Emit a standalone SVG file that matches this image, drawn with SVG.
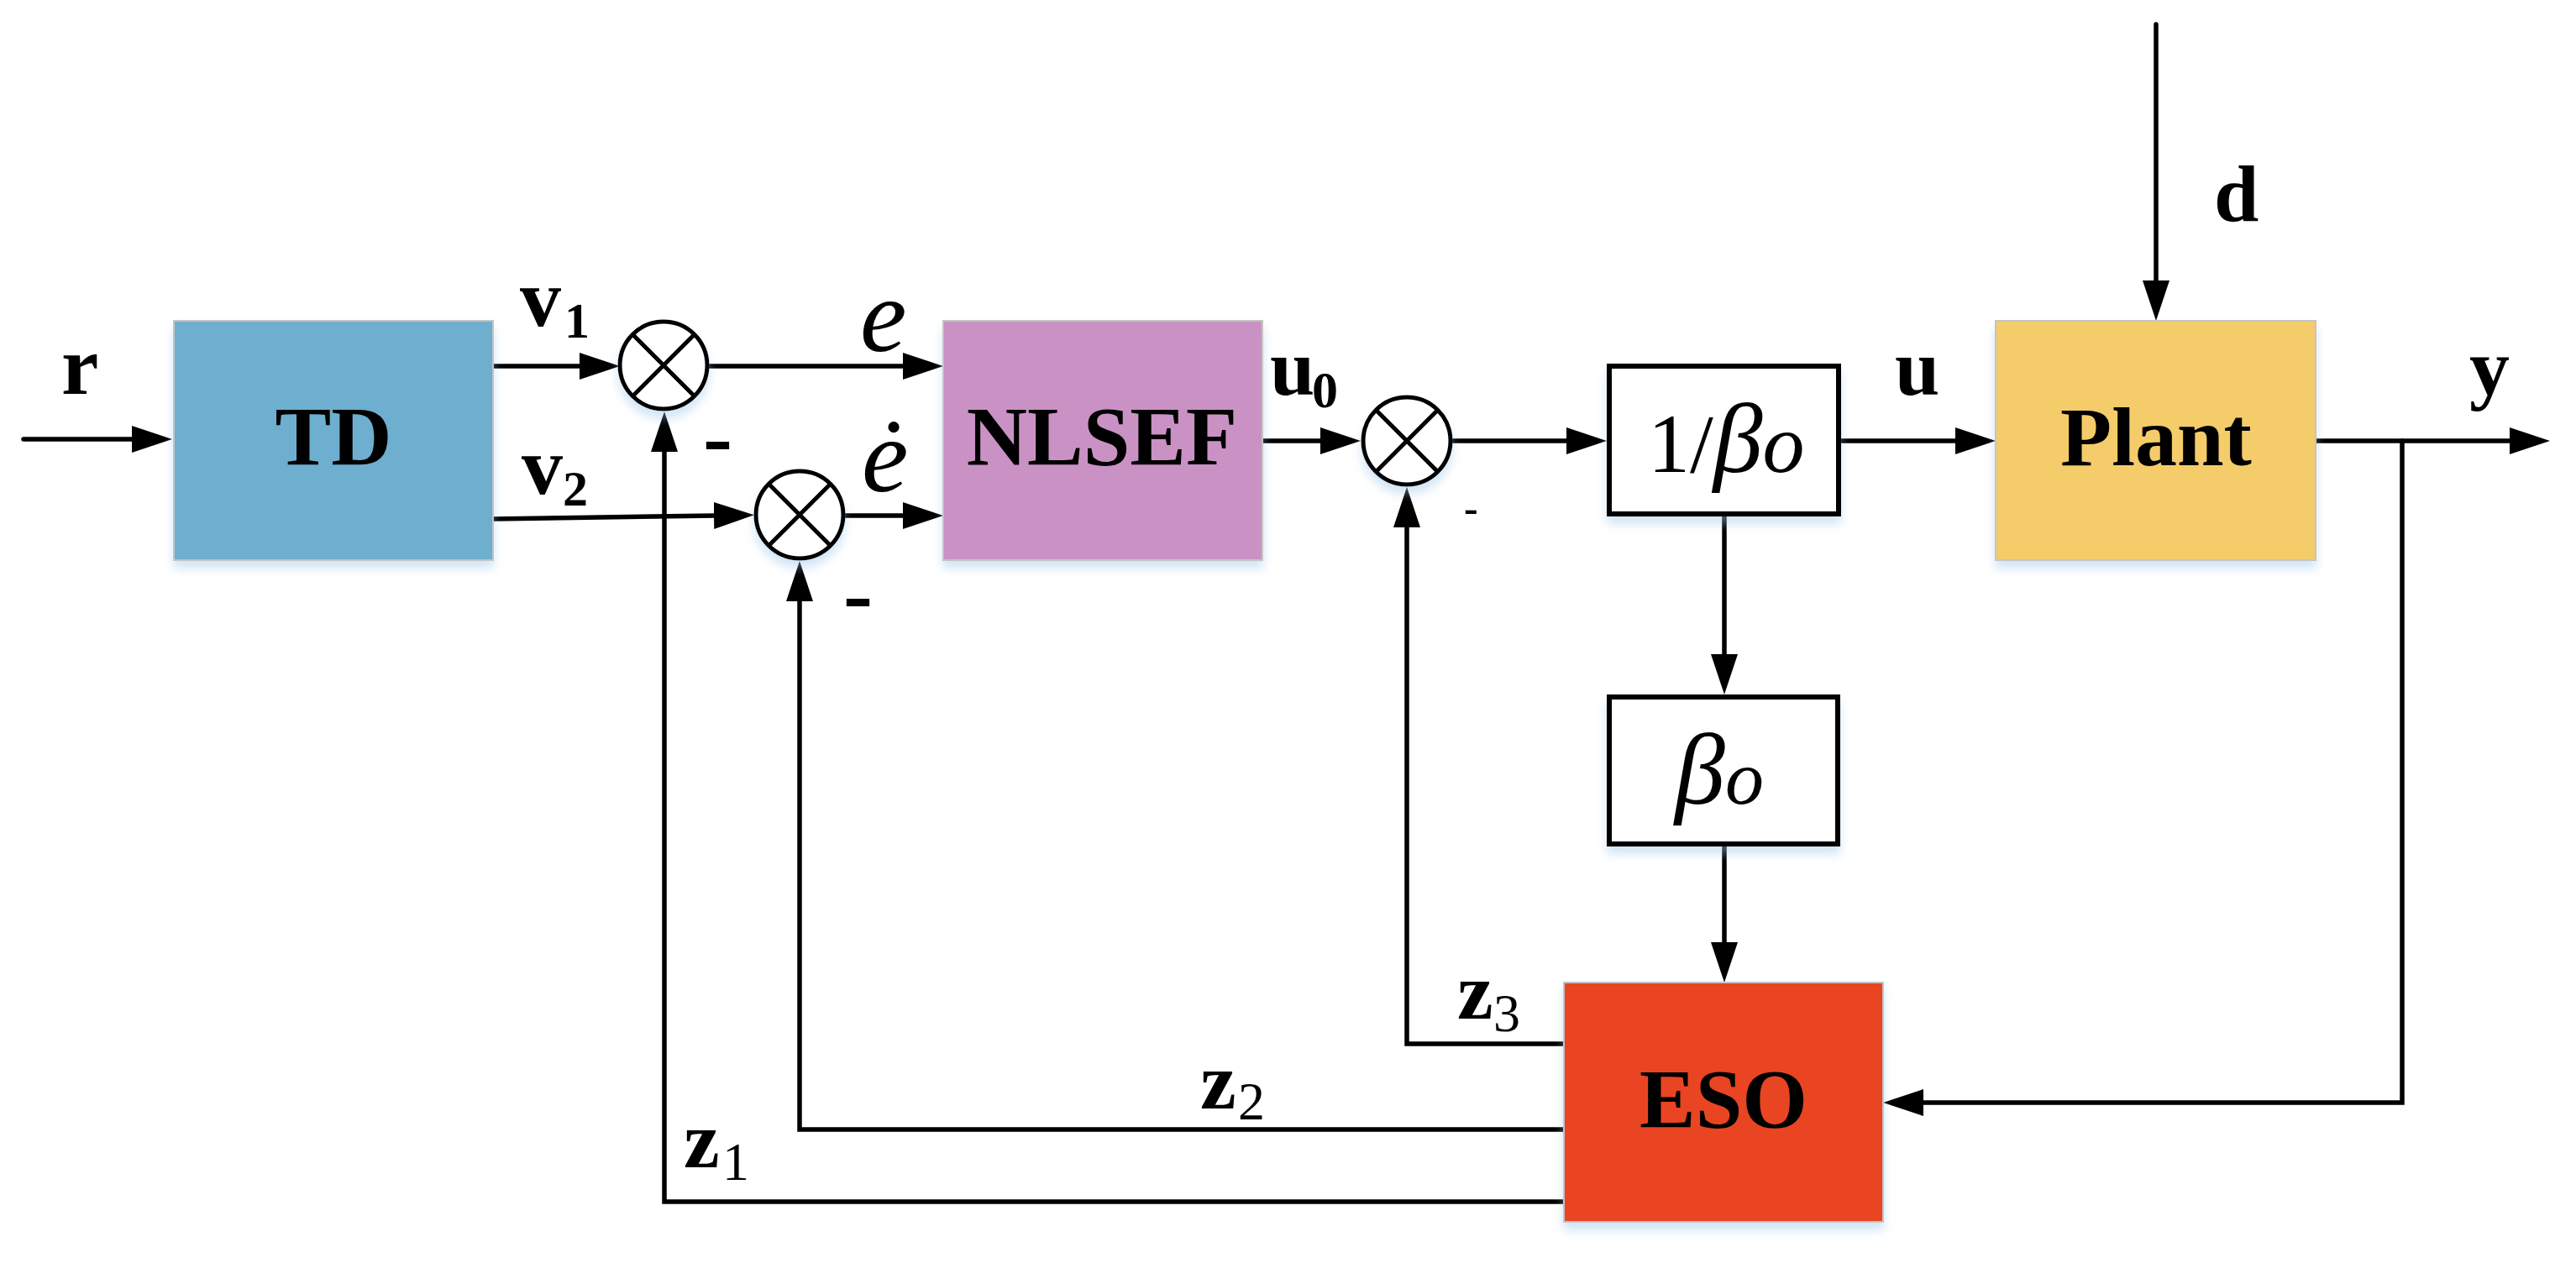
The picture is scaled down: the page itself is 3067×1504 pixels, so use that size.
<svg xmlns="http://www.w3.org/2000/svg" width="3067" height="1504" viewBox="0 0 3067 1504">
<defs>
<marker id="arr" markerUnits="userSpaceOnUse" markerWidth="48" markerHeight="32" viewBox="0 0 48 32" refX="1" refY="16" orient="auto"><path d="M0,0 L48,16 L0,32 Z" fill="#000"/></marker>
<filter id="sh" x="-20%" y="-20%" width="140%" height="150%"><feDropShadow dx="0" dy="9" stdDeviation="6" flood-color="#9cc4ea" flood-opacity="0.45"/></filter>
<style>
.lbl{font-family:"Liberation Serif","Times New Roman",serif;font-weight:bold;fill:#000}
.sub{font-family:"Liberation Serif","Times New Roman",serif;fill:#000}
.math{font-family:"Liberation Serif","Times New Roman",serif;font-style:italic;fill:#000}
.blk{stroke:#c4c4c4;stroke-width:2;filter:url(#sh)}
.wbox{fill:#fff;stroke:#000;stroke-width:6;filter:url(#sh)}
.sum{fill:#fff;stroke:#000;stroke-width:5;filter:url(#sh)}
.x{stroke:#000;stroke-width:5}
.c{fill:none;stroke:#000;stroke-width:5.5;stroke-linecap:round;stroke-linejoin:miter;marker-end:url(#arr)}
</style>
</defs>
<rect width="3067" height="1504" fill="#fff"/>

<g id="connectors">
<path class="c" d="M28,523 H158"/>
<path class="c" d="M587,436 H691"/>
<path class="c" d="M587,618 L851,614"/>
<path class="c" d="M843,436 H1076"/>
<path class="c" d="M1004,614 H1076"/>
<path class="c" d="M1503,525 H1573"/>
<path class="c" d="M1730,525 H1866"/>
<path class="c" d="M2192,525 H2329"/>
<path class="c" d="M2757,525 H2989"/>
<path class="c" d="M2567,29 V335"/>
<path class="c" d="M2053,615 V780"/>
<path class="c" d="M2053,1008 V1123"/>
<path class="c" d="M2860,525 V1313 H2289"/>
<path class="c" d="M1862,1243 H1675 V627"/>
<path class="c" d="M1862,1345 H952 V715"/>
<path class="c" d="M1862,1431 H791 V537"/>
</g>

<g id="TD">
<rect class="blk" x="207" y="382" width="380" height="285" fill="#6eaece"/>
<text class="lbl" x="397" y="553" font-size="100" text-anchor="middle">TD</text>
</g>

<g id="sum1">
<circle class="sum" cx="790" cy="435" r="52"/>
<path class="x" d="M753,398 L827,472 M827,398 L753,472"/>
</g>

<g id="sum2">
<circle class="sum" cx="952" cy="613" r="52"/>
<path class="x" d="M915,576 L989,650 M989,576 L915,650"/>
</g>

<g id="NLSEF">
<rect class="blk" x="1123" y="382" width="380" height="285" fill="#ca92c4"/>
<text class="lbl" x="1312" y="553" font-size="100" text-anchor="middle">NLSEF</text>
</g>

<g id="sum3">
<circle class="sum" cx="1675" cy="525" r="52"/>
<path class="x" d="M1638,488 L1712,562 M1712,488 L1638,562"/>
</g>

<g id="inv_b0">
<rect class="wbox" x="1916" y="436" width="273" height="176"/>
<text x="1962" y="562"><tspan class="sub" font-size="100">1/</tspan><tspan class="math" font-size="118">β</tspan><tspan class="math" font-size="100">o</tspan></text>
</g>

<g id="Plant">
<rect class="blk" x="2376" y="382" width="381" height="285" fill="#f5cc6a"/>
<text class="lbl" x="2567" y="554" font-size="100" text-anchor="middle">Plant</text>
</g>

<g id="b0">
<rect class="wbox" x="1916" y="830" width="272" height="175"/>
<text x="2047" y="957" text-anchor="middle"><tspan class="math" font-size="120">β</tspan><tspan class="math" font-size="92">o</tspan></text>
</g>

<g id="ESO">
<rect class="blk" x="1862" y="1170" width="380" height="285" fill="#e94424"/>
<text class="lbl" x="2052" y="1342" font-size="100" text-anchor="middle">ESO</text>
</g>

<g id="labels">
<text class="lbl" x="73" y="469" font-size="100">r</text>
<text class="lbl" x="619" y="388" font-size="98">v</text>
<text class="lbl" x="672" y="402" font-size="60">1</text>
<text class="lbl" x="621" y="588" font-size="98">v</text>
<text class="lbl" x="670" y="602" font-size="60">2</text>
<text class="math" x="1024" y="418" font-size="125">e</text>
<text class="math" x="1026" y="585" font-size="125">ė</text>
<text class="lbl" x="1512" y="470" font-size="96">u</text>
<text class="lbl" x="1562" y="485" font-size="62">0</text>
<text class="lbl" x="2256" y="470" font-size="96">u</text>
<text class="lbl" x="2940" y="470" font-size="96">y</text>
<text class="lbl" x="2636" y="263" font-size="96">d</text>
<text class="lbl" x="837" y="555" font-size="105">-</text>
<text class="lbl" x="1004" y="742" font-size="105">-</text>
<text class="lbl" x="1743" y="622" font-size="50">-</text>
<text class="lbl" x="1735" y="1213" font-size="96">z</text>
<text class="sub" x="1778" y="1228" font-size="64">3</text>
<text class="lbl" x="1429" y="1320" font-size="96">z</text>
<text class="sub" x="1474" y="1333" font-size="64">2</text>
<text class="lbl" x="814" y="1390" font-size="96">z</text>
<text class="sub" x="860" y="1405" font-size="64">1</text>
</g>
</svg>
